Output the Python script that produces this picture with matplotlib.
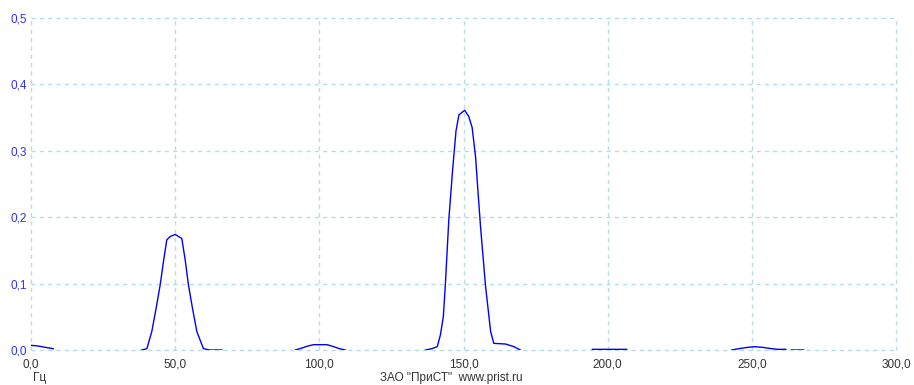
import numpy as np
import matplotlib
matplotlib.use("Agg")
import matplotlib.pyplot as plt
from matplotlib.ticker import FuncFormatter

# spectrum readout (Hz, amplitude); nan marks a gap in the trace
freq = [0.2, 2.5, 5.0, 7.7, np.nan,
        38.4, 40.2, 41.9, 43.4, 44.8, 46.0, 47.1, 48.3, 50.0, 52.3, 53.5, 54.6, 56.0, 57.5, 59.8, 62.0, 66.2, np.nan,
        91.7, 94.0, 96.0, 98.0, 100.0, 102.7, 105.0, 107.0, 109.0, np.nan,
        136.8, 139.0, 140.9, 142.0, 143.0, 143.7, 144.9, 146.2, 147.4, 148.4, 150.4, 151.8, 153.0, 154.2, 155.0, 155.9, 157.6, 159.4, 160.5, 164.6, 167.5, 169.7, np.nan,
        194.7, 200.0, 206.6, np.nan,
        243.0, 245.5, 248.6, 251.0, 253.7, 256.8, 259.0, 261.8, np.nan,
        263.7, 268.0]
ampl = [0.007, 0.006, 0.004, 0.002, np.nan,
        0.0, 0.002, 0.028, 0.063, 0.098, 0.135, 0.166, 0.171, 0.174, 0.168, 0.135, 0.098, 0.063, 0.028, 0.002, 0.0, 0.0, np.nan,
        0.0, 0.003, 0.006, 0.008, 0.008, 0.008, 0.005, 0.002, 0.0, np.nan,
        0.0, 0.002, 0.005, 0.023, 0.05, 0.098, 0.196, 0.27, 0.33, 0.354, 0.361, 0.352, 0.335, 0.29, 0.24, 0.186, 0.098, 0.028, 0.01, 0.009, 0.005, 0.0, np.nan,
        0.001, 0.001, 0.001, np.nan,
        0.0, 0.002, 0.004, 0.005, 0.004, 0.002, 0.001, 0.001, np.nan,
        0.0, 0.0]

xticks = [0, 50, 100, 150, 200, 250, 300]
yticks = [0.0, 0.1, 0.2, 0.3, 0.4, 0.5]

plt.rcParams['font.family'] = ['Liberation Sans', 'DejaVu Sans']

fig = plt.figure(figsize=(9.14, 3.85), dpi=100)
ax = fig.add_axes([31/914, 1-350/385, 865/914, 332/385])

ax.plot(freq, ampl, color='#0000ff', lw=1.0, zorder=3)

ax.set_xlim(0, 300)
ax.set_ylim(0, 0.5)
ax.set_xticks(xticks)
ax.set_yticks(yticks)
comma = FuncFormatter(lambda v, p: f"{v:.1f}".replace('.', ','))
ax.xaxis.set_major_formatter(comma)
ax.yaxis.set_major_formatter(comma)
ax.tick_params(length=0, labelsize=8.5)
ax.tick_params(axis='y', colors='#3030ff', pad=3)
ax.tick_params(axis='x', colors='#333333', pad=6)

for s in ax.spines.values():
    s.set_visible(False)
ax.grid(True, color='#b4dcea', ls=(0, (3, 3)), lw=1.0, clip_on=False)
ax.set_axisbelow(True)

# bottom captions sit right at the lower edge
fig.text(33/914, 1-384/385, "Гц", fontsize=8.5, color='#333333', va='bottom')
fig.text(380/914, 1-384/385, 'ЗАО "ПриСТ"  www.prist.ru', fontsize=8.5, color='#333333', va='bottom')

fig.savefig("out.png", dpi=100, facecolor='white')
